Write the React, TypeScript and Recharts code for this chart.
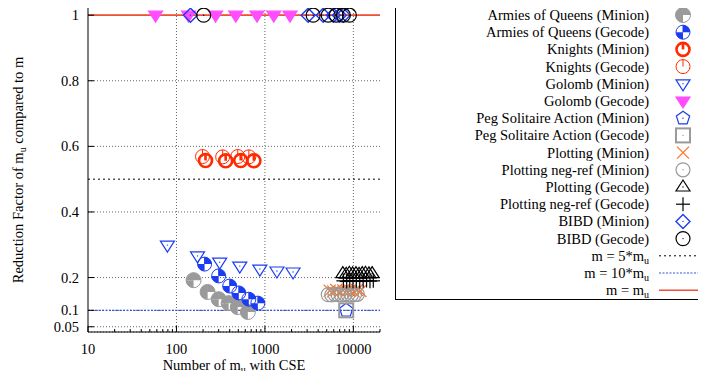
import React from 'react';
import { ScatterChart, Scatter, XAxis, YAxis, CartesianGrid, ReferenceLine, Legend } from 'recharts';

// tick values
const xMajor = [10, 100, 1000, 10000];
const xMinor = [20, 30, 40, 50, 60, 70, 80, 90, 200, 300, 400, 500, 600, 700, 800, 900,
  2000, 3000, 4000, 5000, 6000, 7000, 8000, 9000, 20000];
const yTicks = [0.05, 0.1, 0.2, 0.4, 0.6, 0.8, 1];

// series values
const aoqMinionX = [156, 225, 300, 389, 493, 641];
const aoqMinionY = [0.192, 0.156, 0.134, 0.122, 0.11, 0.095];
const aoqGecodeX = [208, 300, 400, 507, 658, 832];
const aoqGecodeY = [0.241, 0.205, 0.174, 0.153, 0.134, 0.122];
const knightsMinionX = [213, 360, 533, 750];
const knightsMinionY = [0.557, 0.556, 0.557, 0.556];
const knightsGecodeX = [197, 333, 493, 658];
const knightsGecodeY = [0.569, 0.568, 0.569, 0.568];
const golombMinionX = [79, 173, 308, 520, 877, 1368, 2080];
const golombMinionY = [0.299, 0.266, 0.247, 0.235, 0.226, 0.22, 0.217];
const golombGecodeX = [58, 137, 277, 468, 814, 1259, 1920];
const golombGecodeY = [1, 1, 1, 1, 1, 1, 1];
const pegMinionX = [8300];
const pegMinionY = [0.1];
const pegGecodeX = [8300];
const pegGecodeY = [0.1];
const plotMinionX = [5400, 5900, 6400, 7000, 7700, 8400, 9200, 10100, 11000, 12000];
const plotMinionY = [0.16, 0.158, 0.162, 0.157, 0.161, 0.159, 0.16, 0.158, 0.162, 0.159];
const plotNegMinionX = [5200, 5700, 6200, 6700, 7300, 8000, 8700, 9500, 10300, 11100];
const plotNegMinionY = [0.148, 0.147, 0.149, 0.148, 0.147, 0.149, 0.148, 0.147, 0.148, 0.149];
const plotGecodeX = [7600, 8300, 9000, 9800, 10700, 11600, 12600, 13700, 15000, 16300];
const plotGecodeY = [0.212, 0.21, 0.213, 0.211, 0.212, 0.21, 0.212, 0.213, 0.211, 0.212];
const plotNegGecodeX = [7700, 8400, 9100, 9900, 10800, 11800, 12900, 14100, 15400, 16800];
const plotNegGecodeY = [0.19, 0.188, 0.191, 0.189, 0.19, 0.188, 0.19, 0.191, 0.189, 0.19];
const bibdMinionX = [144, 3080, 4560, 5930, 6940, 7700];
const bibdMinionY = [1, 1, 1, 1, 1, 1];
const bibdGecodeX = [203, 3510, 5200, 6410, 7700, 9010];
const bibdGecodeY = [1, 1, 1, 1, 1, 1];

const zip = (xs: number[], ys: number[]) => xs.map((x, i) => ({ x, y: ys[i] }));

const FONT = 'Liberation Serif';
const GRAY = '#9a9a9a';
const BLUE = '#1c3cf2';
const RED = '#ff2a00';
const ORANGE = '#ff7326';
const MAGENTA = '#ff4cff';

type Pt = { cx?: number; cy?: number };

const wedge = (cx: number, cy: number, r: number, a0: number, a1: number) => {
  const p = (a: number) => `${cx + r * Math.cos((a * Math.PI) / 180)} ${cy - r * Math.sin((a * Math.PI) / 180)}`;
  return `M ${cx} ${cy} L ${p(a0)} A ${r} ${r} 0 0 0 ${p(a1)} Z`;
};

// gnuplot style "C" circles: quadrant fills plus a stroke from centre to top
const circleC = (color: string, quads: number[], sw = 1, r = 7) => (p: Pt) => {
  const cx = p.cx ?? 0;
  const cy = p.cy ?? 0;
  return (
    <g>
      {quads.map((q) => (
        <path key={q} d={wedge(cx, cy, r, q * 90, q * 90 + 90)} fill={color} />
      ))}
      <circle cx={cx} cy={cy} r={r} fill="none" stroke={color} strokeWidth={sw} />
      <line x1={cx} y1={cy} x2={cx} y2={cy - r} stroke={color} strokeWidth={sw} />
    </g>
  );
};

const dot = (cx: number, cy: number, color: string) => (
  <circle cx={cx} cy={cy} r={0.7} fill={color} />
);

const triDown = (color: string, filled: boolean) => (p: Pt) => {
  const cx = p.cx ?? 0;
  const cy = p.cy ?? 0;
  return (
    <g>
      <path
        d={`M ${cx - 7} ${cy - 4} L ${cx + 7} ${cy - 4} L ${cx} ${cy + 7} Z`}
        fill={filled ? color : 'none'}
        stroke={color}
        strokeWidth={1.2}
      />
      {!filled && dot(cx, cy, color)}
    </g>
  );
};

const triUp = (color: string) => (p: Pt) => {
  const cx = p.cx ?? 0;
  const cy = p.cy ?? 0;
  return (
    <g>
      <path d={`M ${cx - 7} ${cy + 4} L ${cx + 7} ${cy + 4} L ${cx} ${cy - 7} Z`} fill="none" stroke={color} strokeWidth={1.2} />
      {dot(cx, cy, color)}
    </g>
  );
};

const pentagon = (color: string) => (p: Pt) => {
  const cx = p.cx ?? 0;
  const cy = p.cy ?? 0;
  const pts = [0, 1, 2, 3, 4]
    .map((k) => {
      const a = ((90 + k * 72) * Math.PI) / 180;
      return `${cx + 7 * Math.cos(a)},${cy - 7 * Math.sin(a)}`;
    })
    .join(' ');
  return (
    <g>
      <polygon points={pts} fill="none" stroke={color} strokeWidth={1.2} />
      {dot(cx, cy, color)}
    </g>
  );
};

const square = (color: string) => (p: Pt) => {
  const cx = p.cx ?? 0;
  const cy = p.cy ?? 0;
  return (
    <g>
      <rect x={cx - 7} y={cy - 7} width={14} height={14} fill="none" stroke={color} strokeWidth={2} />
      {dot(cx, cy, color)}
    </g>
  );
};

const cross = (color: string) => (p: Pt) => {
  const cx = p.cx ?? 0;
  const cy = p.cy ?? 0;
  return (
    <g stroke={color} strokeWidth={1.2}>
      <line x1={cx - 6} y1={cy - 6} x2={cx + 6} y2={cy + 6} />
      <line x1={cx - 6} y1={cy + 6} x2={cx + 6} y2={cy - 6} />
    </g>
  );
};

const plus = (color: string) => (p: Pt) => {
  const cx = p.cx ?? 0;
  const cy = p.cy ?? 0;
  return (
    <g stroke={color} strokeWidth={1.2}>
      <line x1={cx - 7} y1={cy} x2={cx + 7} y2={cy} />
      <line x1={cx} y1={cy - 7} x2={cx} y2={cy + 7} />
    </g>
  );
};

const openCircle = (color: string) => (p: Pt) => {
  const cx = p.cx ?? 0;
  const cy = p.cy ?? 0;
  return (
    <g>
      <circle cx={cx} cy={cy} r={7} fill="none" stroke={color} strokeWidth={1.2} />
      {dot(cx, cy, color)}
    </g>
  );
};

const diamond = (color: string) => (p: Pt) => {
  const cx = p.cx ?? 0;
  const cy = p.cy ?? 0;
  return (
    <g>
      <path d={`M ${cx} ${cy - 7} L ${cx + 7} ${cy} L ${cx} ${cy + 7} L ${cx - 7} ${cy} Z`} fill="none" stroke={color} strokeWidth={1.4} />
      {dot(cx, cy, color)}
    </g>
  );
};

const series = [
  { name: 'Armies of Queens (Minion)', data: zip(aoqMinionX, aoqMinionY), shape: circleC(GRAY, [0, 1, 2], 1, 7.5) },
  { name: 'Armies of Queens (Gecode)', data: zip(aoqGecodeX, aoqGecodeY), shape: circleC(BLUE, [0, 2]) },
  { name: 'Knights (Minion)', data: zip(knightsMinionX, knightsMinionY), shape: circleC(RED, [], 2.6, 6.5) },
  { name: 'Knights (Gecode)', data: zip(knightsGecodeX, knightsGecodeY), shape: circleC(RED, [], 1) },
  { name: 'Golomb (Minion)', data: zip(golombMinionX, golombMinionY), shape: triDown(BLUE, false) },
  { name: 'Golomb (Gecode)', data: zip(golombGecodeX, golombGecodeY), shape: triDown(MAGENTA, true) },
  { name: 'Peg Solitaire Action (Minion)', data: zip(pegMinionX, pegMinionY), shape: pentagon(BLUE) },
  { name: 'Peg Solitaire Action (Gecode)', data: zip(pegGecodeX, pegGecodeY), shape: square(GRAY) },
  { name: 'Plotting (Minion)', data: zip(plotMinionX, plotMinionY), shape: cross(ORANGE) },
  { name: 'Plotting neg-ref (Minion)', data: zip(plotNegMinionX, plotNegMinionY), shape: openCircle(GRAY) },
  { name: 'Plotting (Gecode)', data: zip(plotGecodeX, plotGecodeY), shape: triUp('#000') },
  { name: 'Plotting neg-ref (Gecode)', data: zip(plotNegGecodeX, plotNegGecodeY), shape: plus('#000') },
  { name: 'BIBD (Minion)', data: zip(bibdMinionX, bibdMinionY), shape: diamond(BLUE) },
  { name: 'BIBD (Gecode)', data: zip(bibdGecodeX, bibdGecodeY), shape: openCircle('#000') },
];

const refLines = [
  { label: 'm = 5*m', y: 0.5, stroke: '#000', dash: '2 3', width: 1 },
  { label: 'm = 10*m', y: 0.1, stroke: '#3355e0', dash: '2 1.5', width: 1.2 },
  { label: 'm = m', y: 1, stroke: '#f05035', dash: undefined, width: 1.6 },
];

const txt = { fontFamily: FONT, fontSize: 14.5, fill: '#000' };
const SUB = 10;

const BottomTick = (p: any) => {
  const v = p.payload.value;
  const major = xMajor.includes(v);
  return (
    <g>
      <line x1={p.x} x2={p.x} y1={p.y} y2={p.y - (major ? 6 : 3)} stroke="#000" />
      {major && (
        <text x={p.x} y={p.y + 21.5} textAnchor="middle" {...txt}>
          {v}
        </text>
      )}
    </g>
  );
};

const TopTick = (p: any) => {
  const major = xMajor.includes(p.payload.value);
  return <line x1={p.x} x2={p.x} y1={p.y} y2={p.y + (major ? 6 : 3)} stroke="#000" />;
};

const LeftTick = (p: any) => (
  <g>
    <line x1={p.x} x2={p.x + 6} y1={p.y} y2={p.y} stroke="#000" />
    <text x={p.x - 9} y={p.y + 5} textAnchor="end" {...txt}>
      {p.payload.value}
    </text>
  </g>
);

const RightTick = (p: any) => <line x1={p.x} x2={p.x - 6} y1={p.y} y2={p.y} stroke="#000" />;

const XLabel = () => (
  <text x={234} y={370} textAnchor="middle" {...txt}>
    Number of m<tspan dy={3} fontSize={SUB}>u</tspan>
    <tspan dy={-3}> with CSE</tspan>
  </text>
);

const YLabel = () => {
  const x = 23;
  const y = 170;
  return (
    <text x={x} y={y} transform={`rotate(-90 ${x} ${y})`} textAnchor="middle" {...txt}>
      Reduction Factor of m<tspan dy={3} fontSize={SUB}>u</tspan>
      <tspan dy={-3}> compared to m</tspan>
    </text>
  );
};

const renderLegend = () => (
  <svg width={330} height={296} style={{ display: 'block' }}>
    <rect x={0.5} y={0.5} width={360} height={294} fill="#fff" stroke="#000" />
    {series.map((s, i) => {
      const cy = 10 + i * 17.2;
      return (
        <g key={s.name}>
          <text x={254} y={cy + 5} textAnchor="end" {...txt}>
            {s.name}
          </text>
          {s.shape({ cx: 288, cy })}
        </g>
      );
    })}
    {refLines.map((l, j) => {
      const cy = 10 + (series.length + j) * 17.2;
      return (
        <g key={l.label}>
          <text x={254} y={cy + 5} textAnchor="end" {...txt}>
            {l.label}
            <tspan dy={3} fontSize={SUB}>u</tspan>
          </text>
          <line x1={264} x2={330} y1={cy} y2={cy} stroke={l.stroke} strokeDasharray={l.dash} strokeWidth={l.width} />
        </g>
      );
    })}
  </svg>
);

export default function App() {
  return (
    <div style={{ margin: -8, width: 706, height: 379, overflow: 'hidden', position: 'relative', background: '#fff', fontFamily: FONT }}>
      <ScatterChart width={706} height={379} margin={{ top: 5, right: 326, bottom: 7, left: 0 }}>
        <CartesianGrid vertical={false} stroke="#666" strokeDasharray="1 2" />
        <XAxis
          dataKey="x"
          type="number"
          scale="log"
          domain={[10, 20000]}
          allowDataOverflow
          ticks={[...xMajor, ...xMinor]}
          interval={0}
          height={40}
          tickSize={0}
          tickMargin={0}
          tick={BottomTick}
          tickLine={false}
          axisLine={{ stroke: '#000' }}
          label={<XLabel />}
        />
        <XAxis
          xAxisId="top"
          orientation="top"
          type="number"
          scale="log"
          domain={[10, 20000]}
          allowDataOverflow
          ticks={[...xMajor, ...xMinor]}
          interval={0}
          height={0}
          tickSize={0}
          tickMargin={0}
          tick={TopTick}
          tickLine={false}
          axisLine={{ stroke: '#000' }}
        />
        <YAxis
          dataKey="y"
          type="number"
          domain={[0.034, 1.031]}
          allowDataOverflow
          ticks={yTicks}
          interval={0}
          width={88}
          tickSize={0}
          tickMargin={0}
          tick={LeftTick}
          tickLine={false}
          axisLine={{ stroke: '#000' }}
          label={<YLabel />}
        />
        <YAxis
          yAxisId="right"
          orientation="right"
          type="number"
          domain={[0.034, 1.031]}
          allowDataOverflow
          ticks={yTicks}
          interval={0}
          width={0}
          tickSize={0}
          tickMargin={0}
          tick={RightTick}
          tickLine={false}
          axisLine={{ stroke: '#000' }}
        />
        {xMajor.slice(1).map((v) => (
          <ReferenceLine key={v} x={v} stroke="#666" strokeDasharray="1 2" />
        ))}
        {series.map((s) => (
          <Scatter key={s.name} name={s.name} data={s.data} shape={s.shape} isAnimationActive={false} />
        ))}
        {refLines.map((l) => (
          <ReferenceLine key={l.label} y={l.y} stroke={l.stroke} strokeDasharray={l.dash} strokeWidth={l.width} />
        ))}
        <Legend
          layout="vertical"
          align="center"
          verticalAlign="middle"
          content={renderLegend}
          wrapperStyle={{ left: 395, top: 5, width: 330, height: 296 }}
        />
      </ScatterChart>
    </div>
  );
}
